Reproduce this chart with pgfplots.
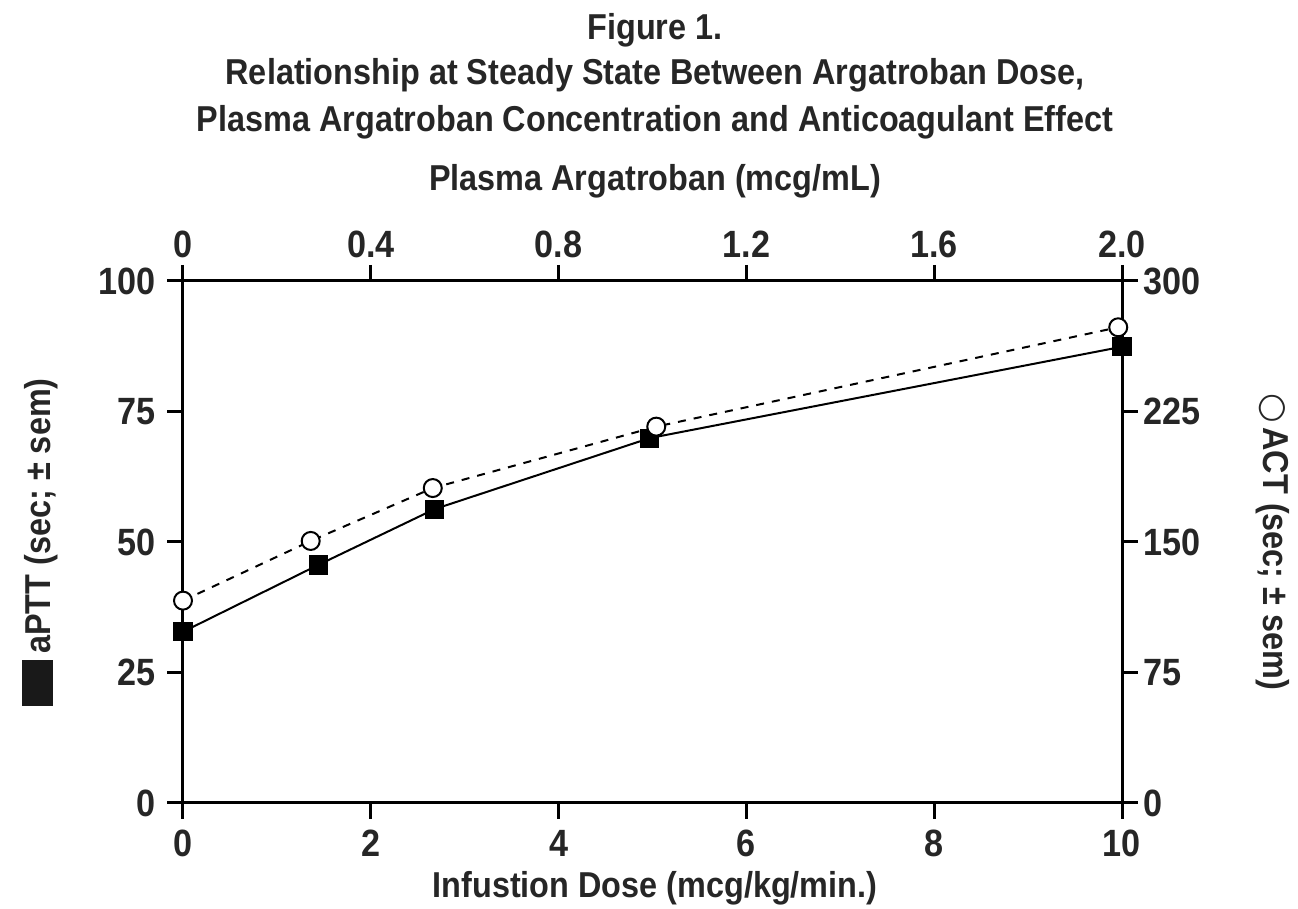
\documentclass[border=0pt]{standalone}
\usepackage{fontspec}
\usepackage{pgfplots}
\pgfplotsset{compat=1.18}
\setmainfont{Liberation Sans}[FakeStretch=0.9]
\newfontfamily\sym{DejaVu Sans}
\newcommand{\fs}{\bfseries\fontsize{18}{21}\selectfont}
\newcommand{\ft}{\bfseries\fontsize{19}{21}\selectfont}
\begin{document}
\begin{tikzpicture}[font=\fs]
\path[use as bounding box] (-91.5pt,-53pt) rectangle (557.5pt,401.5pt);
\pgfplotsset{every axis/.append style={
  width=469.5pt, height=261pt, scale only axis,
  at={(0,0)}, anchor=south west,
  xmin=0, xmax=10,
  tick align=outside, major tick length=8pt,
  axis line style={line width=1.5pt, black},
  every tick/.style={black, line width=1.5pt},
  minor tick num=0,
  /pgf/number format/assume math mode=true,
  tick label style={font=\ft, text=black!85},
}}
\begin{axis}[
  ymin=0, ymax=100,
  xtick={0,2,4,6,8,10}, ytick={0,25,50,75,100},
  xtick pos=bottom, ytick pos=left,
  xticklabel style={yshift=-2pt},
  yticklabel style={xshift=-2pt},
]
\addplot[black, line width=1pt, mark=square*, mark size=4.3pt, mark options={solid, fill=black}]
coordinates {(0,32.8) (1.44,45.6) (2.68,56.3) (4.97,69.9) (10,87.4)};
\end{axis}
\begin{axis}[
  ymin=0, ymax=300,
  xtick={0,2,4,6,8,10}, xticklabels={0,0.4,0.8,1.2,1.6,2.0},
  ytick={0,75,150,225,300},
  xtick pos=top, ytick pos=right,
  yticklabel style={xshift=-1pt},
]
\addplot[black, line width=1pt, dash pattern=on 4pt off 4pt, mark=*, mark size=4.5pt, mark options={solid, fill=white, line width=1pt}]
coordinates {(0,116.3) (1.36,150.6) (2.66,181.0) (5.04,216.3) (9.96,273.4)};
\end{axis}
\node[text=black!85] at (236pt,386.5pt) {Figure 1.};
\node[text=black!85] at (236pt,364pt) {Relationship at Steady State Between Argatroban Dose,};
\node[text=black!85] at (236pt,340.5pt) {Plasma Argatroban Concentration and Anticoagulant Effect};
\node[text=black!85] at (236pt,311pt) {Plasma Argatroban (mcg/mL)};
\node[text=black!85] at (236pt,-42.5pt) {Infustion Dose (mcg/kg/min.)};
\node[text=black!85, rotate=90] at (-71.5pt,130.5pt) {\textcolor{black!90}{\rule[-1pt]{23pt}{15.5pt}}\hspace{3pt}aPTT (sec; ± sem)};
\node[text=black!85, rotate=-90] at (545pt,130.5pt) {{\sym\fontsize{17}{20}\selectfont\mdseries ○}\hspace{2pt}ACT (sec; ± sem)};
\end{tikzpicture}
\end{document}
